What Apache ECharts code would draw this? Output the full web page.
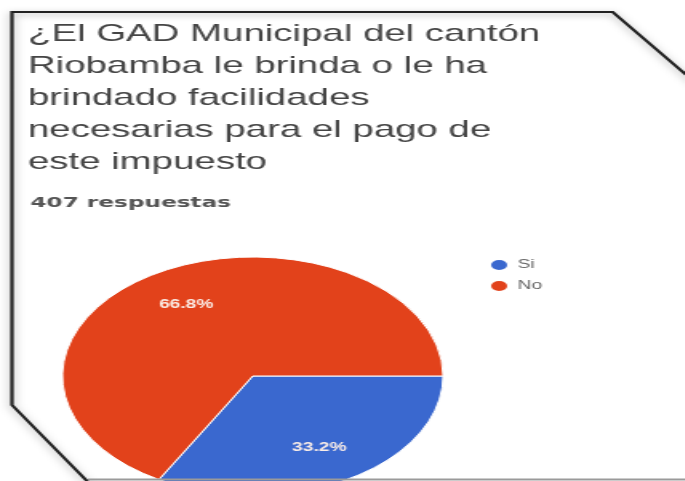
<!DOCTYPE html>
<html>
<head>
<meta charset="utf-8">
<script src="https://cdn.jsdelivr.net/npm/echarts@6/dist/echarts.min.js"></script>
<style>
html,body{margin:0;padding:0;background:#fff;overflow:hidden;}
#wrap{width:685px;height:481px;position:relative;overflow:hidden;}
#chart{width:428.125px;height:481px;position:absolute;left:0;top:0;transform:scaleX(1.6);transform-origin:0 0;}
</style>
</head>
<body>
<div id="wrap"><div id="chart"></div></div>
<script>
var titleText = '¿El GAD Municipal del cantón\nRiobamba le brinda o le ha\nbrindado facilidades\nnecesarias para el pago de\neste impuesto';
var subText = '407 respuestas';
var categories = ['Si', 'No'];
var values = [33.2, 66.8];
var colors = ['#3a68cf', '#e2421b'];

var data = categories.map(function (c, i) { return { name: c, value: values[i], itemStyle: { color: colors[i] } }; });
var labelData = categories.map(function (c, i) { return { name: c, value: values[i] }; });

var chart = echarts.init(document.getElementById('chart'), null, { renderer: 'canvas' });
chart.setOption({
  animation: false,
  backgroundColor: '#fff',
  title: [
    { text: titleText, left: 12.5, top: 13,
      textStyle: { fontFamily: 'Liberation Sans', fontSize: 24, fontWeight: 'normal', color: '#454545', lineHeight: 32 } },
    { text: subText, left: 14, top: 191,
      textStyle: { fontFamily: 'DejaVu Sans', fontSize: 14.5, fontWeight: 'bold', color: '#555' } }
  ],
  legend: {
    orient: 'vertical', left: 300, top: 253, itemGap: 7,
    icon: 'circle', itemWidth: 13, itemHeight: 12,
    data: categories,
    textStyle: { fontFamily: 'Liberation Sans', fontSize: 12, color: '#666' }
  },
  graphic: [
    { type: 'polyline', silent: true, z: 10,
      shape: { points: [[55, 482], [7.5, 405], [7.5, 12], [383, 12], [440, 90]] },
      style: { stroke: '#222', lineWidth: 2.2, fill: null, shadowBlur: 6, shadowColor: 'rgba(0,0,0,0.35)', shadowOffsetY: 2 } },
    { type: 'line', silent: true, z: 10,
      shape: { x1: 55, y1: 479.5, x2: 428, y2: 479.5 },
      style: { stroke: '#9a9a9a', lineWidth: 2 } }
  ],
  series: [
    { type: 'pie', center: [158, 376], radius: [0, 119], startAngle: 0, clockwise: true,
      data: data, label: { show: false }, labelLine: { show: false },
      itemStyle: { borderColor: '#fff', borderWidth: 1 }, emphasis: { disabled: true } },
    { type: 'pie', center: [158, 376], radius: [40, 119], startAngle: 0, clockwise: true, silent: true,
      data: labelData, itemStyle: { color: 'rgba(0,0,0,0)' },
      label: { show: true, position: 'inside', formatter: '{d}%', color: '#fbeee8',
               fontFamily: 'Liberation Sans', fontSize: 12, fontWeight: 'bold' },
      labelLine: { show: false }, emphasis: { disabled: true } }
  ]
});
</script>
</body>
</html>
